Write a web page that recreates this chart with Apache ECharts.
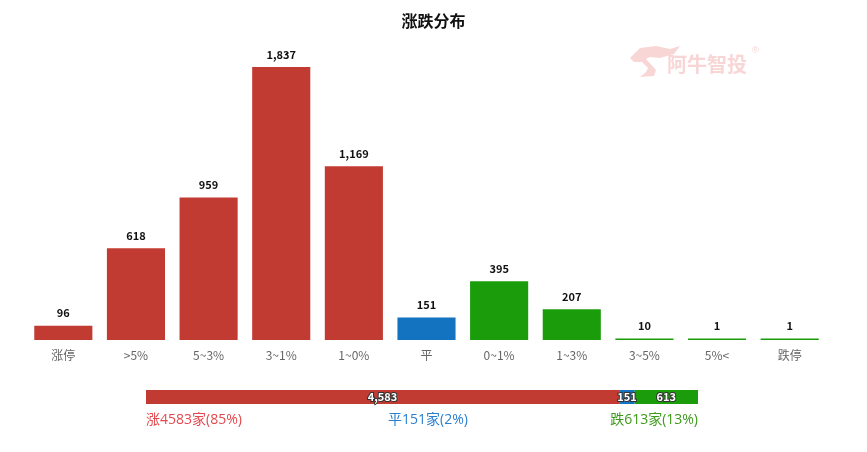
<!DOCTYPE html>
<html><head><meta charset="utf-8">
<script src="https://cdn.jsdelivr.net/npm/echarts@6/dist/echarts.min.js"></script>
<style>html,body{margin:0;padding:0;background:#fff}#c{width:867px;height:452px}</style>
</head><body><div id="c"></div>
<script>
const categories = ['涨停','>5%','5~3%','3~1%','1~0%','平','0~1%','1~3%','3~5%','5%<','跌停'];
const values = [96, 618, 959, 1837, 1169, 151, 395, 207, 10, 1, 1];
const groupNames = ['涨','平','跌'];
const groupCounts = [4583, 151, 613];
const groupPct = ['85%','2%','13%'];

const RED = '#c23b32', BLUE = '#1473c0', GREEN = '#1b9c0b';
const barColors = categories.map((c,i) => i < 5 ? RED : (i === 5 ? BLUE : GREEN));
const groupColors = [RED, BLUE, GREEN];
const textColors = ['#e5484d', '#2a7fcf', '#3d9a1a'];
const FONT = '"Microsoft YaHei","Noto Sans CJK SC",sans-serif';
const total = groupCounts.reduce((a,b)=>a+b,0);

const footFont = '14px "Open Sans","Noto Sans CJK SC",sans-serif';
const footTexts = [
  {type: 'text', left: 146, top: 413, style: {text: groupNames[0] + groupCounts[0] + '家(' + groupPct[0] + ')', fill: textColors[0], font: footFont}},
  {type: 'text', left: 388, top: 413, style: {text: groupNames[1] + groupCounts[1] + '家(' + groupPct[1] + ')', fill: textColors[1], font: footFont}},
  {type: 'text', right: 169, top: 413, style: {text: groupNames[2] + groupCounts[2] + '家(' + groupPct[2] + ')', fill: textColors[2], font: footFont}}
];

const chart = echarts.init(document.getElementById('c'));
const option = {
  animation: false,
  textStyle: {fontFamily: FONT},
  title: {text: '涨跌分布', left: 'center', top: 8, textStyle: {fontSize: 16, fontWeight: 'bold', color: '#111', fontFamily: FONT}},
  graphic: [
    {type: 'text', left: 667, top: 54, style: {text: '阿牛智投', fill: '#f9d6d6', font: 'bold 20px ' + FONT}},
    {type: 'text', left: 752, top: 46, style: {text: '®', fill: '#f9d6d6', font: '9px sans-serif'}},
    {type: 'polygon', left: 630, top: 46, shape: {points: [[0,14],[10,4],[26,2],[40,5],[50,2],[44,10],[30,14],[20,13],[16,15],[26,26],[24,32],[10,33],[16,28],[18,24],[12,18],[4,18]]}, style: {fill: '#f9d6d6'}},
    ...footTexts
  ],
  grid: [
    {left: 27, right: 41, top: 67, bottom: 112},
    {left: 146, width: 552, top: 390, height: 14}
  ],
  xAxis: [
    {type: 'category', data: categories, gridIndex: 0, axisLine: {show: false}, axisTick: {show: false},
     axisLabel: {color: '#666', fontSize: 12, margin: 9, fontFamily: FONT}},
    {type: 'value', gridIndex: 1, min: 0, max: total, show: false}
  ],
  yAxis: [
    {type: 'value', gridIndex: 0, min: 0, max: 1837, show: false},
    {type: 'category', gridIndex: 1, data: ['all'], show: false}
  ],
  series: [
    {type: 'bar', xAxisIndex: 0, yAxisIndex: 0, barWidth: '80%',
     data: values.map((v,i) => ({value: v, itemStyle: {color: barColors[i]}})),
     barMinHeight: 1.5,
     label: {show: true, position: 'top', distance: 7, color: '#111', fontWeight: 'bold', fontSize: 11,
       formatter: p => p.value.toLocaleString('en-US')}},
    ...groupNames.map((n,i) => ({
      type: 'bar', xAxisIndex: 1, yAxisIndex: 1, stack: 'all', barWidth: 14,
      data: [groupCounts[i]], itemStyle: {color: groupColors[i]},
      label: {show: true, position: 'inside', color: '#fff', fontWeight: 'bold', fontSize: 11,
        textBorderColor: '#333', textBorderWidth: 2,
        formatter: p => p.value.toLocaleString('en-US')}
    }))
  ]
};
chart.setOption(option);
</script>
</body></html>
